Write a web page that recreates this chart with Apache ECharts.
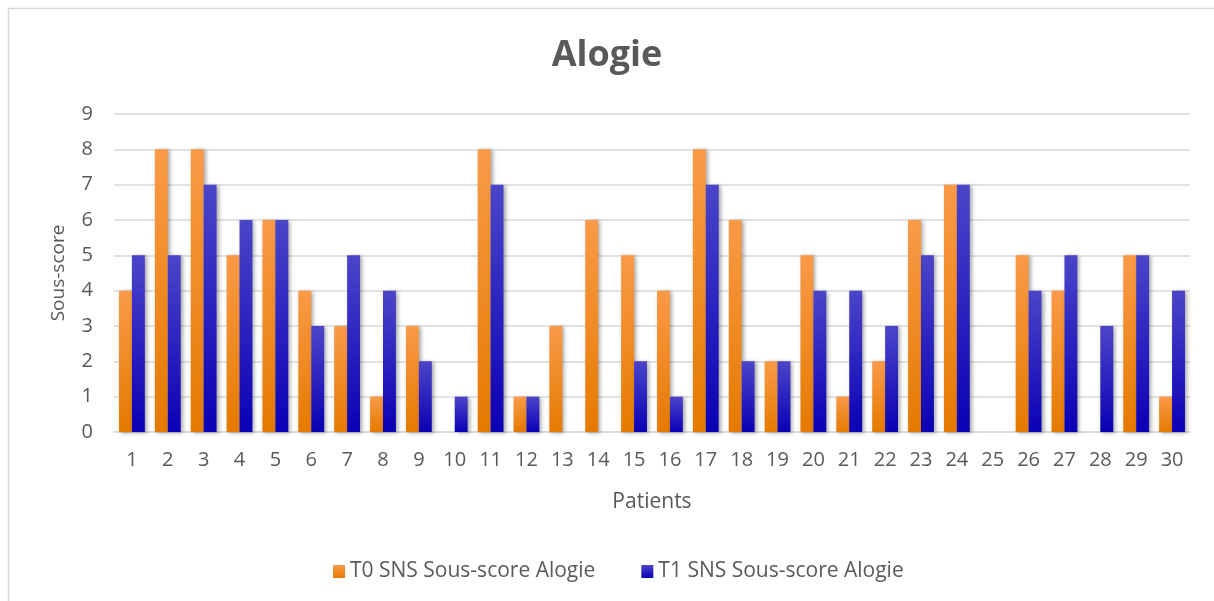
<!DOCTYPE html>
<html>
<head>
<meta charset="utf-8">
<script src="https://cdn.jsdelivr.net/npm/echarts@6/dist/echarts.min.js"></script>
<style>
  html, body { margin: 0; padding: 0; background: #fff; }
  #chart { width: 1214px; height: 601px; }
</style>
</head>
<body>
<div id="chart"></div>
<script>
// data
var patients = ['1','2','3','4','5','6','7','8','9','10','11','12','13','14','15',
                '16','17','18','19','20','21','22','23','24','25','26','27','28','29','30'];
var t0Values = [4, 8, 8, 5, 6, 4, 3, 1, 3, 0, 8, 1, 3, 6, 5, 4, 8, 6, 2, 5, 1, 2, 6, 7, 0, 5, 4, 0, 5, 1];
var t1Values = [5, 5, 7, 6, 6, 3, 5, 4, 2, 1, 7, 1, 0, 0, 2, 1, 7, 2, 2, 4, 4, 3, 5, 7, 0, 4, 5, 3, 5, 4];
var seriesNames = ['T0 SNS Sous-score Alogie', 'T1 SNS Sous-score Alogie'];

var chart = echarts.init(document.getElementById('chart'));
var font = '"Open Sans", "Liberation Sans", sans-serif';

function grad(top, bottom) {
    return new echarts.graphic.LinearGradient(0, 0, 0, 1, [
        { offset: 0, color: top },
        { offset: 1, color: bottom }
    ]);
}

var option = {
    backgroundColor: '#fff',
    animation: false,
    graphic: [{
        type: 'rect',
        shape: { x: 8.5, y: 8.5, width: 1300, height: 700 },
        style: { fill: 'none', stroke: '#d9d9d9', lineWidth: 1.5 },
        silent: true
    }],
    title: {
        text: 'Alogie',
        left: 'center',
        top: 33,
        textStyle: { fontFamily: font, fontSize: 36, fontWeight: 'bold', color: '#595959' }
    },
    legend: {
        data: seriesNames,
        top: 556,
        left: 328,
        itemWidth: 12,
        itemHeight: 13,
        itemGap: 46,
        icon: 'rect',
        textStyle: { fontFamily: font, fontSize: 21, color: '#595959' }
    },
    grid: { left: 114, right: 24, top: 114, bottom: 169 },
    xAxis: {
        type: 'category',
        data: patients,
        name: 'Patients',
        nameLocation: 'middle',
        nameGap: 60,
        nameTextStyle: { fontFamily: font, fontSize: 21, color: '#595959' },
        axisLine: { lineStyle: { color: '#d9d9d9', width: 1.5 } },
        axisTick: { show: false },
        axisLabel: { fontFamily: font, fontSize: 20, color: '#595959', margin: 18 }
    },
    yAxis: {
        type: 'value',
        min: 0,
        max: 9,
        interval: 1,
        name: 'Sous-score',
        nameLocation: 'middle',
        nameGap: 46,
        nameTextStyle: { fontFamily: font, fontSize: 19, color: '#595959' },
        axisLine: { show: false },
        axisTick: { show: false },
        axisLabel: { fontFamily: font, fontSize: 20, color: '#595959', margin: 21 },
        splitLine: { lineStyle: { color: '#d9d9d9', width: 1.5 } }
    },
    series: [
        {
            name: seriesNames[0],
            type: 'bar',
            data: t0Values,
            barGap: '0%',
            barCategoryGap: '28%',
            itemStyle: {
                color: grad('#fa9a48', '#e57a00'),
                shadowColor: 'rgba(0,0,0,0.35)',
                shadowBlur: 4,
                shadowOffsetX: 2,
                shadowOffsetY: 1
            }
        },
        {
            name: seriesNames[1],
            type: 'bar',
            data: t1Values,
            itemStyle: {
                color: grad('#4b45c9', '#0a00b5'),
                shadowColor: 'rgba(0,0,0,0.35)',
                shadowBlur: 4,
                shadowOffsetX: 2,
                shadowOffsetY: 1
            }
        }
    ]
};

option && chart.setOption(option);
</script>
</body>
</html>
